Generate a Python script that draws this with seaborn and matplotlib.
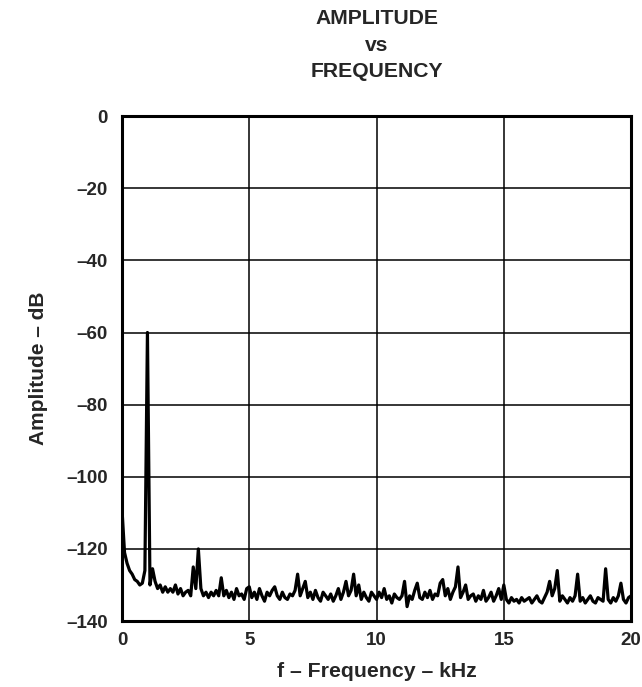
import numpy as np
import pandas as pd
import matplotlib
matplotlib.use("Agg")
import matplotlib.pyplot as plt
import seaborn as sns

# frequency grid (kHz), one reading every 0.1 kHz
freq_khz = np.round(np.arange(0, 20.05, 0.1), 1)

# amplitude readings (dB), 10 per kHz
amp_db = [
    -109, -121, -124, -126, -127, -128.5, -129, -130, -129.5, -126,
    -60, -130, -125.5, -129, -131, -130, -132, -130.5, -132, -131,
    -132, -130, -132.5, -131, -133, -132, -131.5, -133, -125, -131,
    -120, -131, -133, -132, -133.5, -132, -133, -131.5, -133, -128,
    -133, -131.5, -133.5, -132, -134, -131, -133, -132.5, -134, -131,
    -130.5, -133.5, -132, -134, -131, -133, -134.5, -132, -133, -131.5,
    -130.5, -133, -134, -132, -133.5, -134, -132.5, -133, -131.5, -127,
    -133, -131, -129, -133.5, -132, -134, -131.5, -133.5, -134.5, -132,
    -133, -134, -132.5, -134.5, -133, -131, -134, -132, -129, -133,
    -131.5, -127, -133, -130, -134, -132, -133.5, -134.5, -132, -133,
    -134, -132, -133.5, -131, -134, -133, -135, -132.5, -133.5, -134,
    -133, -129, -136, -133, -134, -131.5, -129.5, -133.5, -134, -132,
    -133.5, -131.5, -134, -132.5, -133, -129.5, -128.5, -133, -131, -134,
    -132, -130.5, -125, -133.5, -132, -130, -134, -133, -132.5, -134.5,
    -133, -134, -131.5, -134.5, -133.5, -132, -134.5, -133, -131, -134,
    -130, -134, -135, -133.5, -134.5, -134, -135, -133.5, -134.5, -134,
    -133.5, -135, -134, -133, -134.5, -135, -133.5, -132, -129, -133,
    -131, -126, -134.5, -133, -134, -135, -133.5, -134.5, -133, -127,
    -134.5, -133.5, -135, -134, -133, -134.5, -135, -133.5, -134, -134.5,
    -125.5, -134, -135, -133.5, -134.5, -133, -129.5, -134, -135, -133.5,
    -133,
]

x_ticks = [0, 5, 10, 15, 20]
x_labels = ["0", "5", "10", "15", "20"]
y_ticks = [0, -20, -40, -60, -80, -100, -120, -140]
y_labels = ["0", "–20", "–40", "–60", "–80", "–100", "–120", "–140"]

df = pd.DataFrame({"f": freq_khz, "amp": amp_db})

sns.set_style("white")
plt.rcParams["font.family"] = ["Liberation Sans", "DejaVu Sans"]

fig = plt.figure(figsize=(6.42, 6.87), dpi=100)
ax = fig.add_axes([0.19, 0.096, 0.793, 0.735])

sns.lineplot(data=df, x="f", y="amp", ax=ax, color="black", linewidth=2.3,
             sort=False, zorder=3)

ax.set_xlim(0, 20)
ax.set_ylim(-140, 0)
ax.set_xticks(x_ticks)
ax.set_xticklabels(x_labels)
ax.set_yticks(y_ticks)
ax.set_yticklabels(y_labels)
ax.tick_params(length=0, labelsize=13.5)
ax.tick_params(axis="x", pad=8)
ax.tick_params(axis="y", pad=10)
for lab in ax.get_xticklabels() + ax.get_yticklabels():
    lab.set_fontweight("bold")

ax.grid(True, color="black", linewidth=1.1)
ax.set_axisbelow(True)
for sp in ax.spines.values():
    sp.set_visible(True)
    sp.set_color("black")
    sp.set_linewidth(2.2)

ax.set_xlabel("f – Frequency – kHz", fontsize=15.3, fontweight="bold", labelpad=9)
ax.set_ylabel("Amplitude – dB", fontsize=15, fontweight="bold", labelpad=13)
ax.set_title("AMPLITUDE\nvs\nFREQUENCY", fontsize=15.2, fontweight="bold",
             linespacing=1.5, pad=28)

fig.savefig("out.png", dpi=100)
